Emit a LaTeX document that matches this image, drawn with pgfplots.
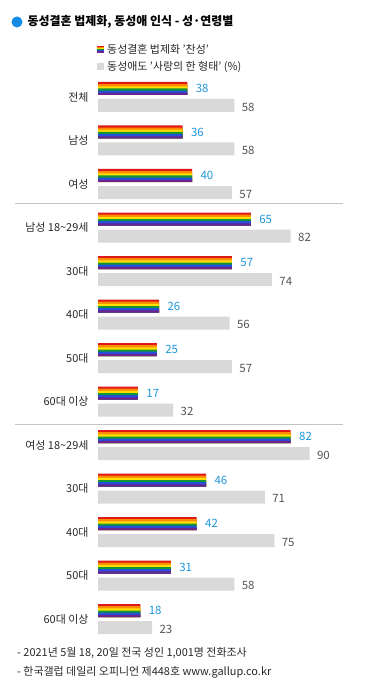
\documentclass[border=0pt]{standalone}
\usepackage{fontspec}
\setmainfont{Noto Sans CJK KR}
\usepackage{pgfplots}
\usepackage{pgfplotstable}
\pgfplotsset{compat=1.18}
\definecolor{rbA}{RGB}{222,24,24}
\definecolor{rbB}{RGB}{255,140,0}
\definecolor{rbC}{RGB}{255,222,0}
\definecolor{rbD}{RGB}{20,150,50}
\definecolor{rbE}{RGB}{35,80,220}
\definecolor{rbF}{RGB}{110,35,140}
\definecolor{barGray}{RGB}{217,217,217}
\definecolor{valBlue}{RGB}{30,150,220}
\definecolor{valGray}{RGB}{85,85,85}
\definecolor{txtDark}{RGB}{40,40,40}
\definecolor{sepGray}{RGB}{195,195,195}
\definecolor{dotBlue}{RGB}{20,140,230}

\pgfplotstableread{
row yes love
0 38 58
1 36 58
2 40 57
3 65 82
4 57 74
5 26 56
6 25 57
7 17 32
8 82 90
9 46 71
10 42 75
11 31 58
12 18 23
}\data

\begin{document}
\begin{tikzpicture}
\begin{axis}[
  scale only axis, width=382bp, height=685bp,
  xmin=-41.702, xmax=120.851, ymin=0, ymax=685,
  y dir=reverse, clip=false,
  axis line style={draw=none},
  xtick=\empty,
  major tick length=0pt,
  ytick={97,140.5,184,227.5,271,314.5,358,401.5,445,488.5,532,575.5,619},
  yticklabels={전체,남성,여성,남성 18\textasciitilde 29세,30대,40대,50대,60대 이상,여성 18\textasciitilde 29세,30대,40대,50대,60대 이상},
  yticklabel style={xshift=92bp, anchor=east, font=\fontsize{11}{13}\selectfont, text=txtDark},
  /pgf/number format/assume math mode=true,
  legend style={at={(axis cs:-0.6,42.5)}, anchor=north west, draw=none, fill=none,
    font=\fontsize{11}{13}\selectfont, text=txtDark, row sep=3.5bp,
    inner sep=0pt, nodes={inner sep=1.5bp},
    /tikz/every odd column/.append style={column sep=2.5bp}},
  legend cell align=left,
]
\addlegendimage{legend image code/.code={
  \fill[rbA] (0bp,-3bp) rectangle (6bp,3bp);
  \fill[rbB] (0bp,-3bp) rectangle (6bp,2bp);
  \fill[rbC] (0bp,-3bp) rectangle (6bp,1bp);
  \fill[rbD] (0bp,-3bp) rectangle (6bp,0bp);
  \fill[rbE] (0bp,-3bp) rectangle (6bp,-1bp);
  \fill[rbF] (0bp,-3bp) rectangle (6bp,-2bp);
}}
\addlegendentry{동성결혼 법제화 '찬성'}
\addlegendimage{legend image code/.code={
  \fill[barGray] (0bp,-3bp) rectangle (6bp,3bp);
}}
\addlegendentry{동성애도 '사랑의 한 형태' (\%)}

% separators
\addplot[draw=sepGray, line width=1bp] coordinates {(-35.3,203.7) (104.3,203.7)};
\addplot[draw=sepGray, line width=1bp] coordinates {(-35.3,424) (104.3,424)};

% rainbow stripes (each layer covers from its top edge to the bar bottom)
\addplot[xbar, bar width=13, bar shift=0pt, fill=rbA, draw=none] table[x=yes, y expr=88.5+43.5*\thisrow{row}] {\data};
\addplot[xbar, bar width=10.833, bar shift=0pt, fill=rbB, draw=none] table[x=yes, y expr=89.583+43.5*\thisrow{row}] {\data};
\addplot[xbar, bar width=8.667, bar shift=0pt, fill=rbC, draw=none] table[x=yes, y expr=90.667+43.5*\thisrow{row}] {\data};
\addplot[xbar, bar width=6.5, bar shift=0pt, fill=rbD, draw=none] table[x=yes, y expr=91.75+43.5*\thisrow{row}] {\data};
\addplot[xbar, bar width=4.333, bar shift=0pt, fill=rbE, draw=none] table[x=yes, y expr=92.833+43.5*\thisrow{row}] {\data};
\addplot[xbar, bar width=2.167, bar shift=0pt, fill=rbF, draw=none] table[x=yes, y expr=93.917+43.5*\thisrow{row}] {\data};
% blue value labels
\addplot[draw=none, mark=none, point meta=x, nodes near coords,
  nodes near coords style={anchor=west, xshift=5bp, text=valBlue, font=\fontsize{11.5}{13}\selectfont}]
  table[x=yes, y expr=88.8+43.5*\thisrow{row}] {\data};

% gray bars
\addplot[xbar, bar width=13, bar shift=0pt, fill=barGray, draw=none, point meta=x, nodes near coords,
  nodes near coords style={anchor=west, xshift=4bp, yshift=-1.5bp, text=valGray, font=\fontsize{11.5}{13}\selectfont}]
  table[x=love, y expr=105.5+43.5*\thisrow{row}] {\data};
\end{axis}
\begin{scope}[shift={(current axis.north west)}, x=1bp, y=-1bp]
  \fill[dotBlue] (17,22) circle (5.5bp);
  \node[anchor=west, inner sep=0pt, font=\bfseries\fontsize{12}{14}\selectfont, text=black] at (27.5,22) {동성결혼 법제화, 동성애 인식 - 성·연령별};
  \node[anchor=west, inner sep=0pt, font=\fontsize{11}{13}\selectfont, text=txtDark] at (17,653.5) {- 2021년 5월 18, 20일 전국 성인 1,001명 전화조사};
  \node[anchor=west, inner sep=0pt, font=\fontsize{11}{13}\selectfont, text=txtDark] at (17,672) {- 한국갤럽 데일리 오피니언 제448호 www.gallup.co.kr};
\end{scope}
\pgfresetboundingbox
\path[use as bounding box] (current axis.south west) rectangle (current axis.north east);
\end{tikzpicture}
\end{document}
